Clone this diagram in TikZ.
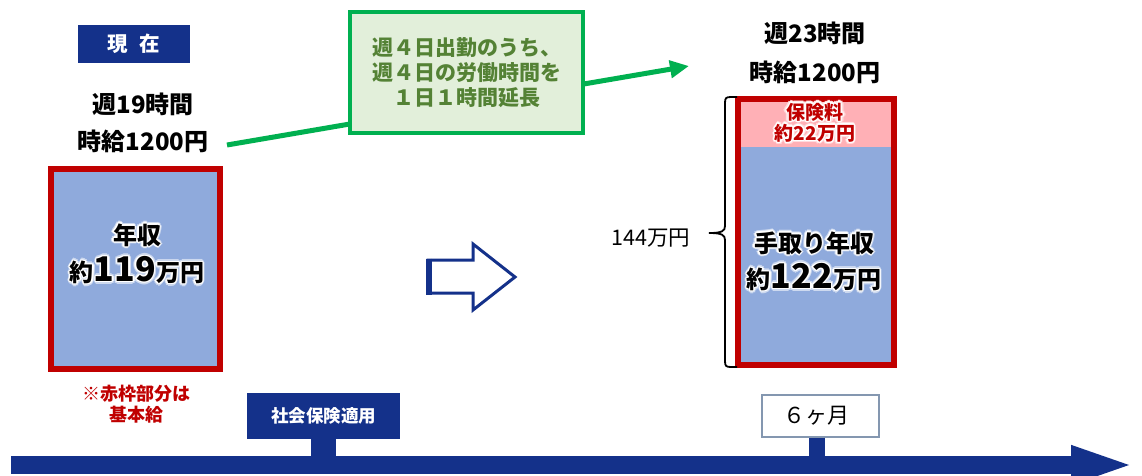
\documentclass[tikz,border=0pt]{standalone}
\usepackage{fontspec}
\setmainfont{Noto Sans CJK JP}
\usetikzlibrary{arrows.meta}
\definecolor{navy}{HTML}{14318A}
\definecolor{boxred}{HTML}{C00000}
\definecolor{boxblue}{HTML}{8FAADC}
\definecolor{boxpink}{HTML}{FFB0B6}
\definecolor{lgreen}{HTML}{00B050}
\definecolor{pgreen}{HTML}{E2EFDA}
\definecolor{tgreen}{HTML}{548235}
\definecolor{lgray}{HTML}{8497B0}
\newcommand\gshift[3]{\makebox[0pt][l]{\hspace*{#1}\raisebox{#2}[0pt][0pt]{#3}}}
\newcommand\gring[3]{%
  \gshift{#1}{0pt}{\color{#2}#3}\gshift{-#1}{0pt}{\color{#2}#3}%
  \gshift{0pt}{#1}{\color{#2}#3}\gshift{0pt}{-#1}{\color{#2}#3}%
  \gshift{0.7\dimexpr#1\relax}{0.7\dimexpr#1\relax}{\color{#2}#3}%
  \gshift{-0.7\dimexpr#1\relax}{0.7\dimexpr#1\relax}{\color{#2}#3}%
  \gshift{0.7\dimexpr#1\relax}{-0.7\dimexpr#1\relax}{\color{#2}#3}%
  \gshift{-0.7\dimexpr#1\relax}{-0.7\dimexpr#1\relax}{\color{#2}#3}}
\newcommand\glowtxt[3]{\gring{2.6pt}{white!55!#1}{#3}\gring{1.4pt}{white}{#3}{\color{#2}#3}}
\newcommand\fs[1]{\fontsize{#1}{#1}\selectfont}
\begin{document}
\begin{tikzpicture}[x=1pt,y=-1pt,
  hd/.style={font=\fs{24}\bfseries, inner sep=0pt},
  navybox/.style={fill=navy, text=white, inner sep=0pt},
  redframe/.style={draw=boxred, line width=6pt, fill=boxblue, inner sep=0pt},
  bold/.style={font=\bfseries, inner sep=0pt}]
\useasboundingbox (0,0) rectangle (1142,475);

% header left
\node[navybox, minimum width=112pt, minimum height=38pt, font=\fs{20.5}\bfseries] (now) at (134,44) {現\hspace{0.55em}在};
\node[hd] (h1) at (143,104) {週19時間};
\node[hd] (h2) at (143,141) {時給1200円};

% left box
\node[redframe, minimum width=169pt, minimum height=200pt] (lbox) at (135.5,269) {};
\node[bold] (l1) at (137,235) {\glowtxt{boxblue}{black}{\fs{24}年収}};
\node[bold] (l2) at (137,270) {\glowtxt{boxblue}{black}{\fs{24}約\fs{34}119\fs{24}万円}};
\node[bold, text=boxred, font=\fontsize{18}{20.5}\selectfont\bfseries, align=center] (note) at (136,404) {※赤枠部分は\\基本給};

% green arrow and box
\coordinate (g0) at (227,145);
\coordinate (g1) at (689,66);
\draw[lgreen, line width=5pt, -{Triangle[length=19pt,width=17pt]}] (g0) -- (g1);
\node[draw=lgreen, line width=4pt, fill=pgreen, minimum width=233pt, minimum height=121pt,
      text=tgreen, align=center, font=\fontsize{21}{25}\selectfont\bfseries, inner sep=0pt] (gbox) at (466.5,72.5)
      {週４日出勤のうち、\\週４日の労働時間を\\１日１時間延長};

% hollow arrow
\draw[navy, line width=3pt, line join=miter] (428,260) -- (473,260) -- (473,244) -- (515,277) -- (473,310) -- (473,293) -- (428,293) -- cycle;
\draw[navy, line width=6pt] (429,258.5) -- (429,294.5);

% header right
\node[hd] (r1) at (815,33) {週23時間};
\node[hd] (r2) at (815,72) {時給1200円};

% right box
\node[fill=boxblue, minimum width=156pt, minimum height=266pt, inner sep=0pt] (rbox) at (816,232) {};
\fill[boxpink] (rbox.north west) rectangle ([yshift=-48pt]rbox.north east);
\draw[boxred, line width=6pt] (rbox.north west) rectangle (rbox.south east);
\node[bold] (p1) at (815,112) {\glowtxt{boxpink}{boxred}{\fs{19}保険料}};
\node[bold] (p2) at (815,133) {\glowtxt{boxpink}{boxred}{\fs{19}約22万円}};
\node[bold] (t1) at (814,243) {\glowtxt{boxblue}{black}{\fs{24}手取り年収}};
\node[bold] (t2) at (814,277) {\glowtxt{boxblue}{black}{\fs{24}約\fs{34}122\fs{24}万円}};

% brace and total
\draw[black, line width=1.8pt] (737,97) -- (731,97) .. controls (726,97) and (725,98) .. (725,103)
  -- (725,226) .. controls (725,231) and (722,233) .. (709,233)
  .. controls (722,233) and (725,235) .. (725,240)
  -- (725,361) .. controls (725,366) and (726,367) .. (731,367) -- (737,367);
\node[font=\fs{21.5}, inner sep=0pt] (tot) at (651,238) {144万円};

% timeline
\coordinate (tl0) at (11,465);
\coordinate (tl1) at (1137,465);
\node[navybox, minimum width=153pt, minimum height=46pt, font=\fs{17.5}\bfseries] (sbox) at (323.5,416) {社会保険適用};
\node[draw=lgray, line width=1.2pt, fill=white, minimum width=117pt, minimum height=42pt, inner sep=0pt] (mbox) at (820.5,416) {};
\node[font=\fs{22}, inner sep=0pt] (mtxt) at (816,416) {６ヶ月};
\draw[navy, line width=25pt] (sbox.south) -- (sbox.south |- tl0);
\path ([xshift=-3.5pt]mbox.south) coordinate (ms);
\draw[navy, line width=16pt] (ms) -- (ms |- tl0);
\draw[navy, line width=18pt, -{Triangle[length=66pt,width=34pt]}] (tl0) -- (tl1);
\end{tikzpicture}
\end{document}
